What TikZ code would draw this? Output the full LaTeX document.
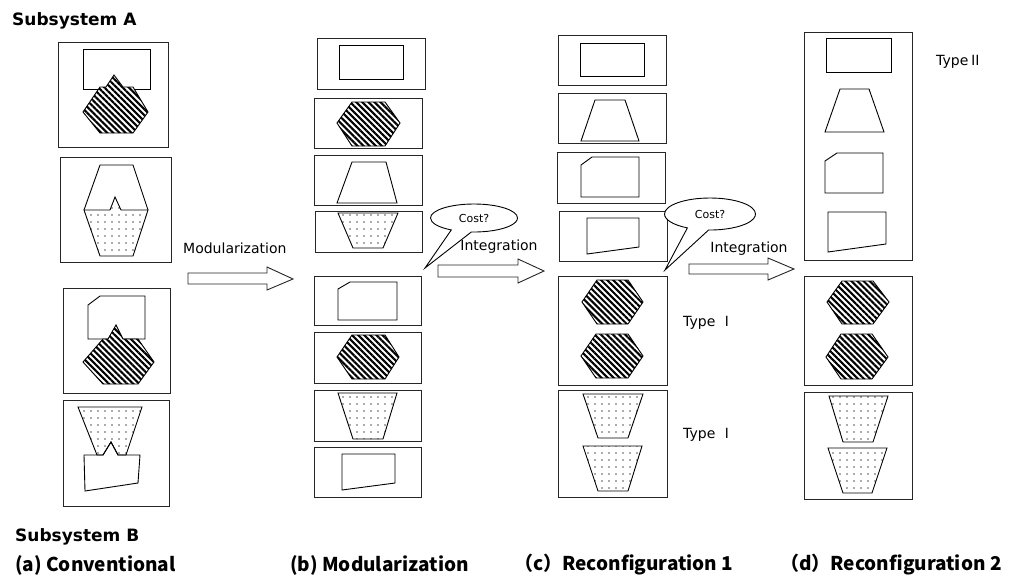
\documentclass[tikz,border=0pt]{standalone}
\usepackage{fontspec}
\setmainfont{DejaVu Sans}
\newfontfamily\cjk{Noto Sans CJK JP}
\usetikzlibrary{patterns.meta,shapes.callouts}
\tikzset{
  box/.style={draw=black!85, line width=0.9pt},
  shp/.style={draw=black, line width=0.9pt},
  hatch/.style={shp, preaction={fill=white}, pattern={Lines[angle=-45,distance=4.3pt,line width=2.1pt]}},
  dotted area/.style={shp, preaction={fill=white}, pattern={Dots[distance=7pt,radius=0.85pt]}, pattern color=black!65},
  blockarrow/.style={draw=black!85, line width=0.9pt, fill=white},
  lbl/.style={inner sep=0pt, font=\fontsize{14}{16}\selectfont},
  headlbl/.style={inner sep=0pt, anchor=west, font=\fontsize{17}{19}\selectfont\bfseries},
  bottomlbl/.style={inner sep=0pt, anchor=west, font=\fontsize{19}{21}\selectfont\cjk\bfseries},
  cost/.style={ellipse callout, draw=black, line width=0.9pt, fill=white, inner sep=0pt, callout pointer arc=28, font=\fontsize{11}{12}\selectfont}
}
\begin{document}
\begin{tikzpicture}[x=1pt,y=-1pt]
\useasboundingbox (0,0) rectangle (1016,579);
% ---------- column (a)
\draw[box] (58,42) rectangle (168,147);
\draw[shp] (83,49) rectangle (150,89);
\draw[hatch] (83,112)--(100,87)--(106,87)--(114,75)--(123,87)--(133,87)--(148,112)--(133,133)--(100,133)--cycle;
\draw[box] (60,157) rectangle (171,262);
\draw[shp] (84,210)--(100,165)--(133,165)--(148,210);
\draw[dotted area] (84,210)--(110,210)--(115,197)--(121,210)--(148,210)--(133,256)--(100,256)--cycle;
\draw[box] (63,288) rectangle (170,393);
\draw[shp] (88,305)--(100,296)--(145,296)--(145,339)--(88,339)--cycle;
\draw[hatch] (83,362)--(103,339)--(108,339)--(116,325)--(123,339)--(138,339)--(154,362)--(138,384)--(103,384)--cycle;
\draw[box] (63,400) rectangle (169,506);
\draw[dotted area] (78,407)--(142,407)--(126,455)--(118,455)--(111,442)--(103,455)--(97,455)--cycle;
\draw[shp] (84,455)--(103,455)--(111,442)--(118,455)--(140,455)--(138,483)--(85,491)--cycle;
% ---------- column (b)
\draw[box] (317,38) rectangle (425,89);
\draw[shp] (339,45) rectangle (403,79);
\draw[box] (314,98) rectangle (422,148);
\draw[hatch] (337,123)--(352,102)--(385,102)--(400,123)--(385,146)--(352,146)--cycle;
\draw[box] (314,155) rectangle (422,205);
\draw[shp] (352,162)--(386,162)--(397,203)--(337,203)--cycle;
\draw[box] (315,211) rectangle (422,252);
\draw[dotted area] (338,213)--(398,213)--(383,248)--(353,248)--cycle;
\draw[box] (314,276) rectangle (421,325);
\draw[shp] (338,289)--(350,282)--(397,282)--(397,320)--(338,320)--cycle;
\draw[box] (314,332) rectangle (421,383);
\draw[hatch] (337,357)--(352,335)--(385,335)--(399,357)--(385,379)--(352,379)--cycle;
\draw[box] (314,390) rectangle (421,441);
\draw[dotted area] (338,393)--(397,393)--(383,439)--(353,439)--cycle;
\draw[box] (314,447) rectangle (421,497);
\draw[shp] (342,454)--(395,454)--(395,483)--(342,490)--cycle;
% ---------- column (c)
\draw[box] (558,35) rectangle (666,85);
\draw[shp] (580,43) rectangle (644,76);
\draw[box] (558,93) rectangle (666,143);
\draw[shp] (595,100)--(625,100)--(639,141)--(581,141)--cycle;
\draw[box] (557,152) rectangle (665,203);
\draw[shp] (581,165)--(592,157)--(639,157)--(639,197)--(581,197)--cycle;
\draw[box] (559,211) rectangle (667,261);
\draw[shp] (587,218)--(639,218)--(639,247)--(587,254)--cycle;
\draw[box] (558,276) rectangle (667,385);
\draw[hatch] (582,302)--(597,280)--(628,280)--(643,302)--(628,324)--(597,324)--cycle;
\draw[hatch] (581,356)--(596,334)--(628,334)--(643,356)--(628,378)--(596,378)--cycle;
\draw[box] (558,390) rectangle (667,497);
\draw[dotted area] (583,394)--(643,394)--(628,438)--(598,438)--cycle;
\draw[dotted area] (583,446)--(642,446)--(628,491)--(598,491)--cycle;
% ---------- column (d)
\draw[box] (804,32) rectangle (912,260);
\draw[shp] (826,38) rectangle (891,72);
\draw[shp] (840,89)--(869,89)--(884,132)--(825,132)--cycle;
\draw[shp] (825,161)--(837,153)--(883,153)--(883,193)--(825,193)--cycle;
\draw[shp] (828,212)--(886,212)--(886,244)--(828,252)--cycle;
\draw[box] (804,276) rectangle (912,385);
\draw[hatch] (827,302)--(842,281)--(873,281)--(889,302)--(873,324)--(842,324)--cycle;
\draw[hatch] (826,357)--(841,334)--(872,334)--(888,357)--(872,379)--(841,379)--cycle;
\draw[box] (804,392) rectangle (912,499);
\draw[dotted area] (829,396)--(888,396)--(873,442)--(843,442)--cycle;
\draw[dotted area] (828,448)--(887,448)--(872,493)--(843,493)--cycle;
% ---------- block arrows
\draw[blockarrow] (188,273)--(267,273)--(267,267)--(293,279)--(267,290)--(267,284)--(188,284)--cycle;
\draw[blockarrow] (438,265)--(518,265)--(518,259)--(544,271)--(518,283)--(518,277)--(438,277)--cycle;
\draw[blockarrow] (689,264)--(768,264)--(768,258)--(794,269)--(768,280)--(768,274)--(689,274)--cycle;
% ---------- callouts
\node[cost, minimum width=87pt, minimum height=28pt, callout absolute pointer={(425,268)}] (cost1) at (474,218) {Cost?};
\node[cost, minimum width=91pt, minimum height=32pt, callout absolute pointer={(665,270)}] (cost2) at (710,214) {Cost?};
% ---------- labels
\node[lbl, anchor=west] (modl) at (183,248) {Modularization};
\node[lbl] (int1) at (499,247) {Integration};
\node[lbl] (int2) at (749,249) {Integration};
\node[lbl, anchor=west] (t1) at (683,323) {Type {\cjk Ⅰ}};
\node[lbl, anchor=west] (t2) at (683,435) {Type {\cjk Ⅰ}};
\node[lbl, anchor=west] (t3) at (936,62) {Type{\cjk Ⅱ}};
\node[headlbl] (sa) at (12,21) {Subsystem A};
\node[headlbl] (sb) at (15,537) {Subsystem B};
\node[bottomlbl] (la) at (15,565) {(a) Conventional};
\node[bottomlbl] (lb) at (290,565) {(b) Modularization};
\node[bottomlbl] (lc) at (514,565) {（c）Reconfiguration 1};
\node[bottomlbl] (ld) at (780,565) {（d）Reconfiguration 2};
\end{tikzpicture}
\end{document}
